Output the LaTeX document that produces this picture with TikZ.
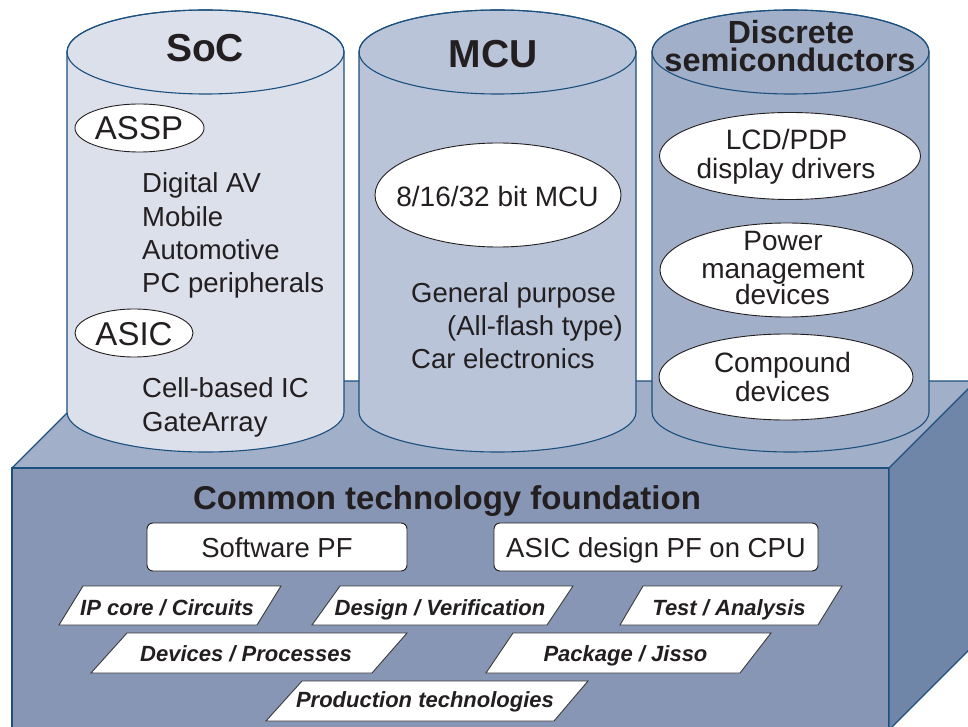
\documentclass[tikz,border=0pt]{standalone}
\usepackage{fontspec}
\setmainfont{Liberation Sans}
\usetikzlibrary{shapes.geometric}
\definecolor{edge}{HTML}{1B4F7D}
\definecolor{ink}{HTML}{231F20}
\definecolor{frontc}{HTML}{8796B4}
\definecolor{topc}{HTML}{A1AFC8}
\definecolor{sidec}{HTML}{7086A8}
\definecolor{socc}{HTML}{DCE0EB}
\definecolor{mcuc}{HTML}{B9C4D9}
\definecolor{disc}{HTML}{A1AFC8}
\definecolor{plgline}{HTML}{3A3A3A}
\newcommand\cylbody[3]{%
  \filldraw[fill=#3, draw=edge, line width=1.1pt]
    (#1-#2,52) -- (#1-#2,412)
    arc[start angle=180, end angle=360, x radius=#2pt, y radius=40pt]
    -- (#1+#2,52)
    arc[start angle=0, end angle=180, x radius=#2pt, y radius=42pt] -- cycle;
  \draw[edge, line width=1.1pt] (#1,52) ellipse[x radius=#2pt, y radius=42pt];}
\begin{document}
\begin{tikzpicture}[x=1pt, y=-1pt,
  txt/.style={inner sep=0pt, text=ink, font=\fontsize{27.5}{33}\selectfont},
  otxt/.style={inner sep=0pt, text=ink, font=\fontsize{28}{28}\selectfont, anchor=base},
  btxt/.style={inner sep=0pt, text=ink, font=\fontsize{33}{33}\selectfont, anchor=base},
  ttl/.style={inner sep=0pt, text=ink, font=\fontsize{39}{39}\selectfont\bfseries},
  oval/.style={ellipse, draw=ink, line width=0.9pt, fill=white, inner sep=0pt},
  pfbox/.style={draw=ink, line width=0.9pt, fill=white, rounded corners=6pt,
    inner sep=0pt, text=ink, font=\fontsize{27.5}{33}\selectfont,
    text height=20pt, text depth=0pt, minimum height=48pt},
  plg/.style={draw=plgline, line width=0.9pt, fill=white},
  ptxt/.style={inner sep=0pt, text=ink, font=\fontsize{22}{22}\selectfont\bfseries\itshape,
    text height=16pt, text depth=0pt},
  edgeline/.style={draw=edge, line width=1.2pt}]
\useasboundingbox (0,0) rectangle (968,727);
\clip (0,0) rectangle (968,727);
% ---- box ----
\fill[topc] (12,468) -- (99,381) -- (980,381) -- (889,468) -- cycle;
\draw[edgeline] (12,468) -- (99,381) -- (980,381);
\filldraw[fill=frontc, edgeline] (12,468) rectangle (889,740);
\filldraw[fill=sidec, edgeline] (889,468) -- (976,381) -- (976,643) -- (889,730) -- cycle;
% ---- cylinders ----
\cylbody{205.5}{138.5}{socc}
\cylbody{497.5}{138.5}{mcuc}
\cylbody{790.5}{138.5}{disc}
% ---- titles ----
\node[ttl, anchor=base] (soc) at (205,62) {SoC};
\node[ttl, anchor=base] (mcu) at (493,68) {MCU};
\node[inner sep=0pt, text=ink, font=\fontsize{32}{32}\selectfont\bfseries, anchor=base] (disc1) at (791,44) {Discrete};
\node[inner sep=0pt, text=ink, font=\fontsize{32.5}{32}\selectfont\bfseries, anchor=base] (disc2) at (790,72) {semiconductors};
% ---- SoC contents ----
\node[oval, minimum width=129pt, minimum height=48pt] (assp) at (139.5,128) {};
\node[btxt] (asspt) at (139,140) {ASSP};
\node[txt, anchor=base west] (s1) at (142,193) {Digital AV};
\node[txt, anchor=base west] (s2) at (142,226) {Mobile};
\node[txt, anchor=base west] (s3) at (142,259) {Automotive};
\node[txt, anchor=base west] (s4) at (142,292) {PC peripherals};
\node[oval, minimum width=118pt, minimum height=48pt] (asic) at (134,333) {};
\node[btxt] (asict) at (134,345) {ASIC};
\node[txt, anchor=base west] (s5) at (142,397) {Cell-based IC};
\node[txt, anchor=base west] (s6) at (142,431) {GateArray};
% ---- MCU contents ----
\node[oval, minimum width=246pt, minimum height=104pt] (mcuov) at (498,195) {};
\node[otxt] (mcut) at (497.5,207) {8/16/32 bit MCU};
\node[txt, anchor=base west] (m1) at (411,302) {General purpose};
\node[txt, anchor=base west] (m2) at (447,335) {(All-flash type)};
\node[txt, anchor=base west] (m3) at (411,368) {Car electronics};
% ---- Discrete contents ----
\node[oval, minimum width=261pt, minimum height=87pt] (lcd) at (790,156) {};
\node[otxt] (lcd1) at (786.5,150) {LCD/PDP};
\node[otxt] (lcd2) at (786,179) {display drivers};
\node[oval, minimum width=253pt, minimum height=94pt] (power) at (786.5,270) {};
\node[otxt] (pw1) at (783,251) {Power};
\node[otxt] (pw2) at (783,278) {management};
\node[otxt] (pw3) at (782.5,304) {devices};
\node[oval, minimum width=254pt, minimum height=86pt] (compound) at (786,377) {};
\node[otxt] (cp1) at (782.5,372) {Compound};
\node[otxt] (cp2) at (782.5,401) {devices};
% ---- foundation ----
\node[inner sep=0pt, text=ink, font=\fontsize{33}{33}\selectfont\bfseries, anchor=base] (ctf) at (447,509) {Common technology foundation};
\node[pfbox, minimum width=260pt] (swpf) at (277,547) {Software PF};
\node[pfbox, minimum width=324pt] (asicpf) at (656,547) {ASIC design PF on CPU};
% ---- parallelograms ----
\draw[plg] (83,586) -- (281,586) -- (257,625) -- (59,625) -- cycle;
\node[ptxt] (ipc) at (167,607) {IP core / Circuits};
\draw[plg] (340,586) -- (573,586) -- (547,625) -- (312,625) -- cycle;
\node[ptxt] (desv) at (440,607) {Design / Verification};
\draw[plg] (643,586) -- (842,586) -- (818,625) -- (620,625) -- cycle;
\node[ptxt] (testa) at (729,607) {Test / Analysis};
\draw[plg] (127,633) -- (407,633) -- (372,673) -- (91,673) -- cycle;
\node[ptxt] (devp) at (246,653) {Devices / Processes};
\draw[plg] (513,633) -- (771,633) -- (740,673) -- (486,673) -- cycle;
\node[ptxt] (pkg) at (625.5,653) {Package / Jisso};
\draw[plg] (302,681) -- (588,681) -- (554,721) -- (266,721) -- cycle;
\node[ptxt] (prod) at (425,699) {Production technologies};
\end{tikzpicture}
\end{document}
